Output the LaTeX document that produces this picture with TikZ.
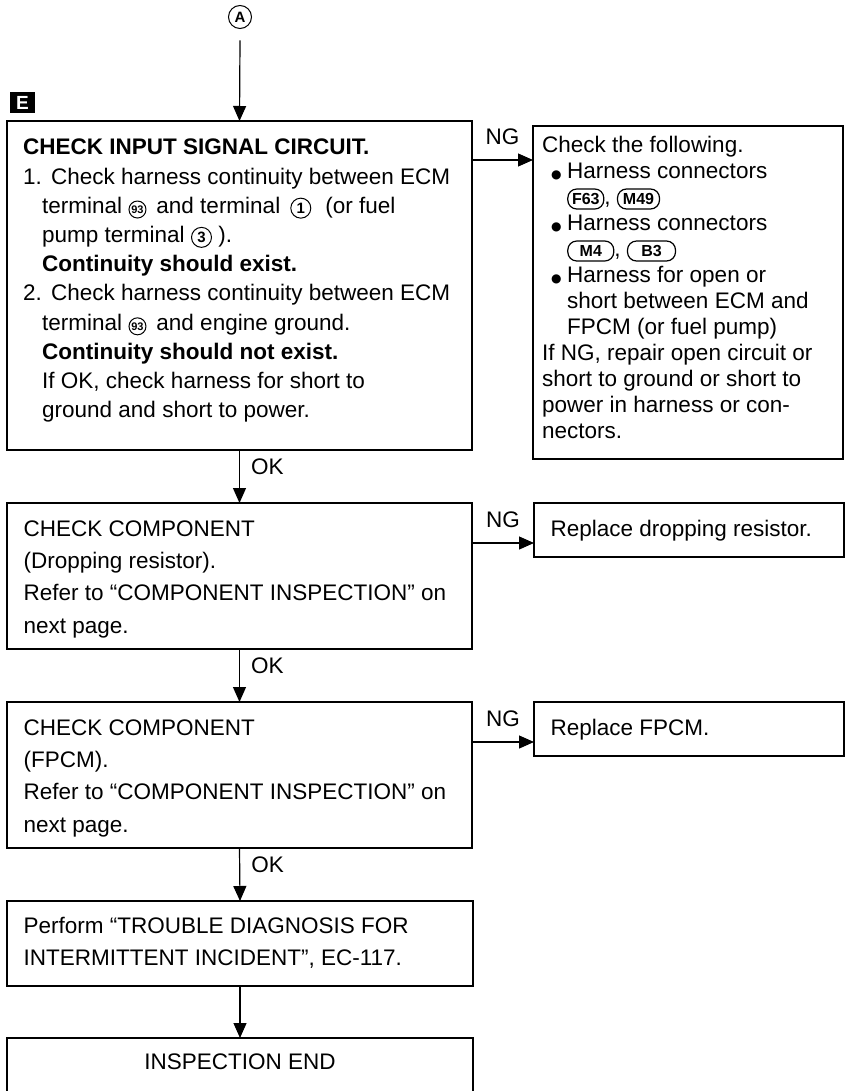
\documentclass[tikz,border=0pt]{standalone}
\usepackage{fontspec}
\setmainfont{Liberation Sans}
\newfontfamily\symfont{DejaVu Sans}
\usetikzlibrary{arrows.meta,positioning,calc}

\newcommand{\cnum}[3][15]{\tikz[baseline=(cn.base)] \node[cnumber,minimum size=#2,font=\bfseries\fontsize{#1}{#1}\selectfont] (cn) {#3};}
\newcommand{\conn}[2]{\tikz[baseline=(cb.base)] \node[badge,minimum width=#1] (cb) {#2};}
\newcommand{\blt}{\hspace*{9pt}\makebox[16pt][l]{\symfont\fontsize{12}{12}\selectfont ●}}

\begin{document}
\begin{tikzpicture}[x=1pt,y=-1pt,>={Triangle[width=13pt,length=15pt]},line width=1.2pt,
   box/.style={draw,line width=1.2pt,anchor=north west,inner sep=0pt,outer sep=0pt},
   txt/.style={anchor=north west,inner sep=0pt,align=left,font=\fontsize{22.5}{29.2}\selectfont},
   lowtxt/.style={txt,font=\fontsize{22.5}{32.3}\selectfont},
   lbl/.style={inner sep=0pt,font=\fontsize{22.5}{22.5}\selectfont},
   cnumber/.style={circle,draw,line width=1pt,inner sep=0.5pt,anchor=center},
   badge/.style={draw,rounded corners=9pt,line width=1.2pt,minimum height=20pt,inner sep=0pt,
      anchor=center,font=\bfseries\fontsize{16}{16}\selectfont}]
   \useasboundingbox (0,0) rectangle (847,1091);
   \clip (0,0) rectangle (847,1091);
   %start
   \node[circle,draw,line width=1pt,minimum size=23pt,inner sep=0pt,
      font=\bfseries\fontsize{15}{15}\selectfont] (start) at (240,17) {A};
   \node[fill=black,text=white,minimum width=25pt,minimum height=21pt,inner sep=0pt,
      font=\bfseries\fontsize{19}{19}\selectfont] (tag) at (22.5,103) {E};
   %boxes
   \node[box,minimum width=465pt,minimum height=329pt] (input) at (7,121) {};
   \node[box,minimum width=310pt,minimum height=333pt] (harness) at (533,126) {};
   \node[box,minimum width=465pt,minimum height=146pt] (resistor) at (7,503) {};
   \node[box,minimum width=310pt,minimum height=54pt] (repres) at (534,503) {};
   \node[box,minimum width=465pt,minimum height=146pt] (fpcm) at (7,702) {};
   \node[box,minimum width=310pt,minimum height=54pt] (repfpcm) at (534,702) {};
   \node[box,minimum width=466pt,minimum height=85pt] (intermit) at (7,901) {};
   \node[box,minimum width=466pt,minimum height=80pt] (finish) at (7,1038) {};
   %texts
   \node[txt] (input-t) at (23,139) {\textbf{CHECK INPUT SIGNAL CIRCUIT.}\\
      \makebox[28pt][l]{1.}Check harness continuity between ECM\\
      \hspace*{19pt}terminal \cnum[11]{17pt}{93}\, and terminal\, \cnum{20pt}{1}\hspace{14pt}(or fuel\\
      \hspace*{19pt}pump terminal \cnum{20pt}{3}~).\\
      \hspace*{19pt}\textbf{Continuity should exist.}\\
      \makebox[28pt][l]{2.}Check harness continuity between ECM\\
      \hspace*{19pt}terminal \cnum[11]{17pt}{93}\, and engine ground.\\
      \hspace*{19pt}\textbf{Continuity should not exist.}\\
      \hspace*{19pt}If OK, check harness for short to\\
      \hspace*{19pt}ground and short to power.};
   \node[txt,font=\fontsize{22.5}{26}\selectfont] (harness-t) at (542,136) {Check the following.\\
      \blt Harness connectors\\
      \hspace*{25pt}\conn{36pt}{F63}, \conn{42pt}{M49}\\
      \blt Harness connectors\\
      \hspace*{25pt}\conn{46pt}{M4}, \conn{48pt}{B3}\\
      \blt Harness for open or\\
      \hspace*{25pt}short between ECM and\\
      \hspace*{25pt}FPCM (or fuel pump)\\
      If NG, repair open circuit or\\
      short to ground or short to\\
      power in harness or con-\\
      nectors.};
   \node[lowtxt] (resistor-t) at (23,520) {CHECK COMPONENT\\
      (Dropping resistor).\\
      Refer to “COMPONENT INSPECTION” on\\
      next page.};
   \node[lowtxt] (repres-t) at (550,520) {Replace dropping resistor.};
   \node[lowtxt] (fpcm-t) at (23,719) {CHECK COMPONENT\\
      (FPCM).\\
      Refer to “COMPONENT INSPECTION” on\\
      next page.};
   \node[lowtxt] (repfpcm-t) at (550,719) {Replace FPCM.};
   \node[lowtxt,font=\fontsize{22.5}{32}\selectfont] (intermit-t) at (23,917) {Perform “TROUBLE DIAGNOSIS FOR\\
      INTERMITTENT INCIDENT”, EC-117.};
   \node[lbl] (finish-t) at (240,1062) {INSPECTION END};
   %arrows
   \draw[->] ([yshift=-11.5pt]start.south) -- (input.north);
   \draw[->] (input.south) -- node[lbl,pos=0.32,right=11pt] {OK} (resistor.north);
   \draw[->] (resistor.south) -- node[lbl,pos=0.32,right=11pt] {OK} (fpcm.north);
   \draw[->] (fpcm.south) -- node[lbl,pos=0.32,right=11pt] {OK} (intermit.north);
   \draw[->] (intermit.south) -- (finish.north);
   \draw[->] ([yshift=-39pt]input.north east) -- node[lbl,above=15pt] {NG}
      ([yshift=-39pt]input.north east -| harness.west);
   \draw[->] ([yshift=-40pt]resistor.north east) -- node[lbl,above=15pt] {NG}
      ([yshift=-40pt]resistor.north east -| repres.west);
   \draw[->] ([yshift=-40pt]fpcm.north east) -- node[lbl,above=15pt] {NG}
      ([yshift=-40pt]fpcm.north east -| repfpcm.west);
\end{tikzpicture}
\end{document}
